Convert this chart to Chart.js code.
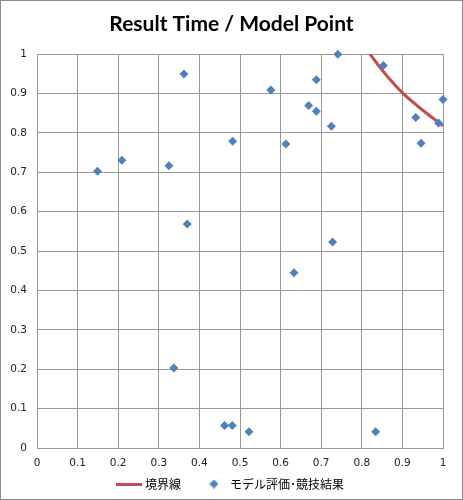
<!DOCTYPE html>
<html>
<head>
<meta charset="utf-8">
<script src="https://cdn.jsdelivr.net/npm/chart.js@4.4.1/dist/chart.umd.min.js"></script>
<style>
  html, body { margin: 0; padding: 0; background: #fff; }
  #wrap { width: 463px; height: 500px; position: relative; }
</style>
</head>
<body>
<div id="wrap"><canvas id="chart"></canvas></div>
<script>
// axis range (both axes 0..1, step 0.1)
const axisMin = 0;
const axisMax = 1;
const axisStep = 0.1;

// 境界線 (boundary curve)
const boundaryX = [0.820, 0.857, 0.901, 0.951, 1.0];
const boundaryY = [1.0, 0.951, 0.901, 0.857, 0.818];

// モデル評価・競技結果
const modelX = [0.149, 0.209, 0.325, 0.362, 0.370, 0.482, 0.576, 0.613, 0.669, 0.688,
                0.688, 0.725, 0.741, 0.728, 0.853, 0.933, 0.946, 0.989, 1.0, 0.633,
                0.337, 0.462, 0.481, 0.522, 0.834];
const modelY = [0.703, 0.731, 0.717, 0.950, 0.569, 0.779, 0.909, 0.772, 0.870, 0.935,
                0.855, 0.817, 1.0, 0.523, 0.971, 0.839, 0.774, 0.825, 0.885, 0.445,
                0.203, 0.057, 0.057, 0.041, 0.041];

const seriesNames = ['境界線', 'モデル評価･競技結果'];

const RED = '#c0504d';
const BLUE = '#4f81bd';
const GRID = '#999999';

function toPoints(xs, ys) {
    return xs.map((x, i) => ({ x: x, y: ys[i] }));
}

// "1", "0.9", ... "0" like the original
function tickText(v) {
    return String(Number(v.toFixed(1)));
}

// little pictures for the legend keys
function lineKey() {
    const c = document.createElement('canvas');
    c.width = 26; c.height = 3;
    const g = c.getContext('2d');
    g.fillStyle = RED;
    g.fillRect(0, 0, 26, 3);
    return c;
}

function diamondKey() {
    const c = document.createElement('canvas');
    c.width = 9; c.height = 9;
    const g = c.getContext('2d');
    g.fillStyle = BLUE;
    g.beginPath();
    g.moveTo(4.5, 0); g.lineTo(9, 4.5); g.lineTo(4.5, 9); g.lineTo(0, 4.5);
    g.closePath();
    g.fill();
    return c;
}

const frame = {
    id: 'frame',
    afterDraw(chart) {
        const c = chart.ctx;
        c.save();
        c.strokeStyle = '#8c8c8c';
        c.lineWidth = 1;
        c.strokeRect(0.5, 0.5, chart.width - 1, chart.height - 1);
        c.restore();
    }
};

const ctx = document.getElementById('chart').getContext('2d');
new Chart(ctx, {
    type: 'scatter',
    data: {
        datasets: [{
            label: seriesNames[0],
            data: toPoints(boundaryX, boundaryY),
            showLine: true,
            borderColor: RED,
            borderWidth: 3,
            pointRadius: 0,
            cubicInterpolationMode: 'monotone',
            order: 1
        }, {
            label: seriesNames[1],
            data: toPoints(modelX, modelY),
            pointStyle: 'rectRot',
            pointRadius: 4.5,
            backgroundColor: BLUE,
            borderColor: BLUE,
            borderWidth: 0,
            clip: false,
            order: 0
        }]
    },
    options: {
        responsive: true,
        maintainAspectRatio: false,
        animation: false,
        layout: { padding: { left: 10, right: 10, top: 0, bottom: 0 } },
        plugins: {
            tooltip: { enabled: false },
            title: {
                display: true,
                text: 'Result Time / Model Point',
                color: '#000',
                font: { family: 'Lato', size: 21, weight: 'bold', lineHeight: 1.2 },
                padding: { top: 12, bottom: 17 }
            },
            legend: {
                position: 'bottom',
                labels: {
                    usePointStyle: true,
                    pointStyleWidth: 20,
                    padding: 23,
                    color: '#000',
                    font: { family: 'Noto Sans CJK JP', size: 12 },
                    generateLabels: () => [
                        { text: seriesNames[0], pointStyle: lineKey(), lineWidth: 0, datasetIndex: 0 },
                        { text: seriesNames[1], pointStyle: diamondKey(), lineWidth: 0, datasetIndex: 1 }
                    ]
                }
            }
        },
        scales: {
            x: {
                type: 'linear',
                min: axisMin,
                max: axisMax,
                afterFit: (s) => { s.height = 7; },
                ticks: {
                    stepSize: axisStep,
                    // mirrored so the labels are not clipped to the thin axis box
                    mirror: true,
                    padding: -22,
                    color: '#222',
                    font: { family: 'DejaVu Sans', size: 10.5 },
                    callback: tickText
                },
                grid: { color: GRID, drawTicks: false },
                border: { color: GRID }
            },
            y: {
                type: 'linear',
                min: axisMin,
                max: axisMax,
                afterFit: (s) => { s.width = 27; },
                ticks: {
                    stepSize: axisStep,
                    padding: 10,
                    color: '#222',
                    font: { family: 'DejaVu Sans', size: 10.5 },
                    callback: tickText
                },
                grid: { color: GRID, drawTicks: false },
                border: { color: GRID }
            },
            yRight: {
                position: 'right',
                display: true,
                afterFit: (s) => { s.width = 10; },
                grid: { display: false },
                ticks: { display: false },
                border: { display: false }
            }
        }
    },
    plugins: [frame]
});
</script>
</body>
</html>
